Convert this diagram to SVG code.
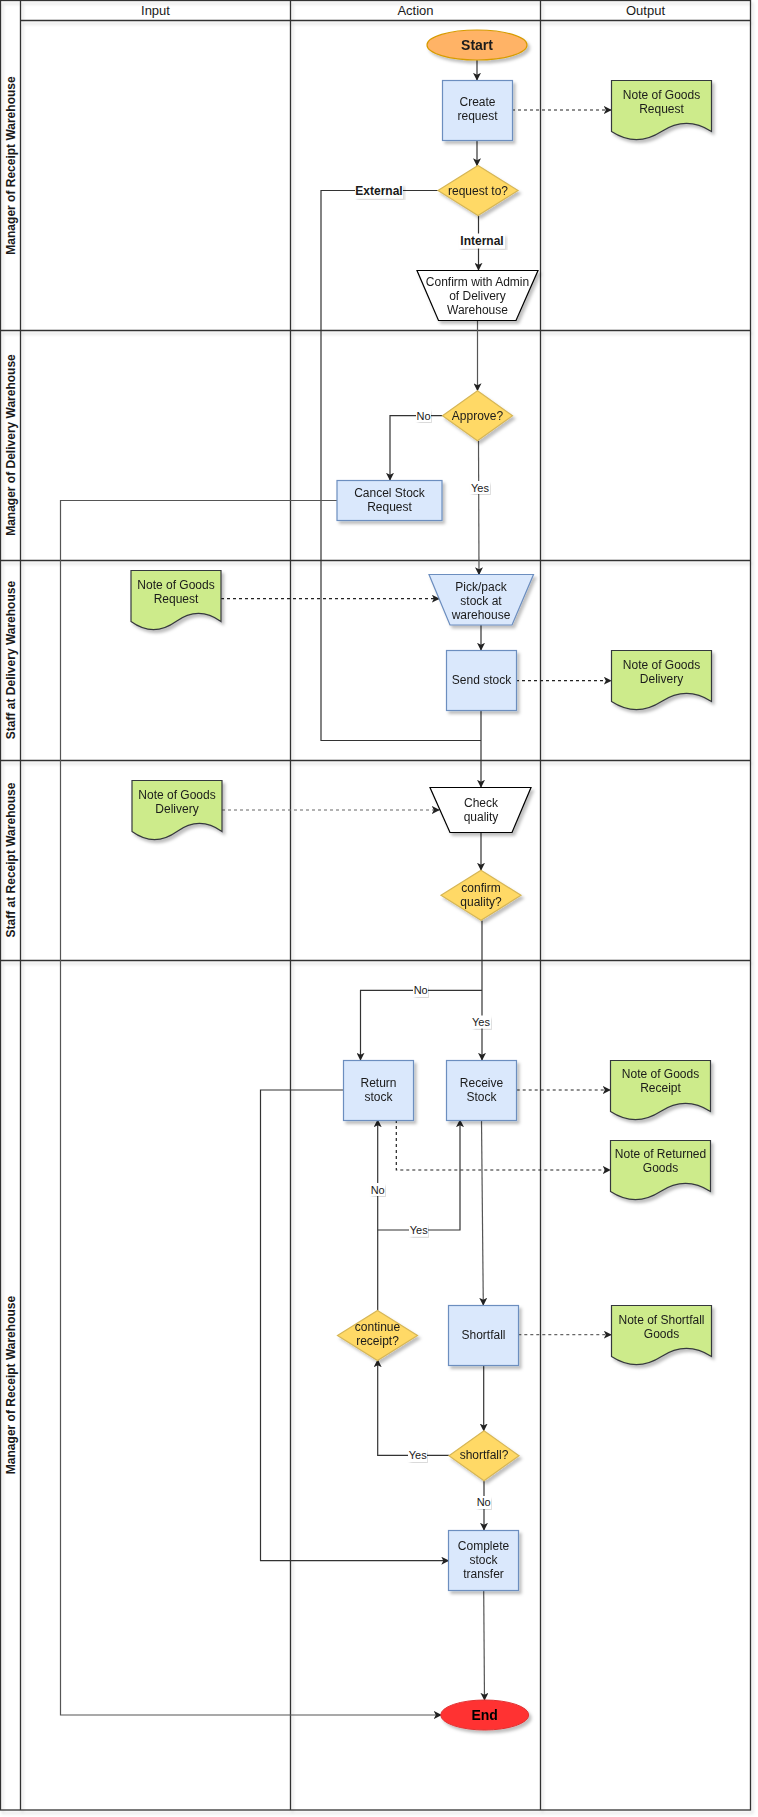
<svg xmlns="http://www.w3.org/2000/svg" width="758" height="1817" viewBox="0 0 758 1817">
<style>
text{font-family:"Liberation Sans",Arial,sans-serif;fill:#1a1a1a}
.t{font-size:12px;text-anchor:middle;dominant-baseline:central}
.lbl{font-size:11px;text-anchor:middle;dominant-baseline:central}
.blbl{font-size:12px;font-weight:bold;text-anchor:middle;dominant-baseline:central}
.hd{font-size:13px;text-anchor:middle;dominant-baseline:central}
.lane{font-size:12px;font-weight:bold;text-anchor:middle;dominant-baseline:central}
.grid{stroke:#333;stroke-width:1.3;fill:none}
.proc{fill:#dae8fc;stroke:#6c8ebf;stroke-width:1.2}
.doc{fill:#cdeb8b;stroke:#36393d;stroke-width:1.2}
.dec{fill:#ffd966;stroke:#d6b656;stroke-width:1.2}
.trap{fill:#fff;stroke:#000;stroke-width:1.2}
.c{fill:none;stroke:#333;stroke-width:1.2}
.cg{fill:none;stroke:#555;stroke-width:1.2}
.d{fill:none;stroke:#222;stroke-width:1.2;stroke-dasharray:3 3}
.dg{fill:none;stroke:#666;stroke-width:1.2;stroke-dasharray:3 3}
.lb{fill:#fff}
</style>
<defs>
<filter id="sh" x="-20%" y="-20%" width="150%" height="150%">
<feDropShadow dx="2.5" dy="3" stdDeviation="1.5" flood-color="#000" flood-opacity="0.25"/>
</filter>
<filter id="shl" x="-5%" y="-5%" width="110%" height="110%">
<feDropShadow dx="2" dy="3" stdDeviation="1.5" flood-color="#000" flood-opacity="0.15"/>
</filter>
<marker id="ar" viewBox="0 0 10 10" refX="9" refY="5" markerWidth="8" markerHeight="8" orient="auto" markerUnits="userSpaceOnUse">
<path d="M0,0 L10,5 L0,10 L2.5,5 z" fill="#222"/>
</marker>
</defs>
<rect width="758" height="1817" fill="#fff"/>
<g id="pool" filter="url(#shl)">
<rect class="grid" x="0.5" y="0.5" width="750" height="1809.5"/>
<line class="grid" x1="20.5" y1="0" x2="20.5" y2="1810"/>
<line class="grid" x1="20.5" y1="20.5" x2="751" y2="20.5"/>
<line class="grid" x1="290.5" y1="0" x2="290.5" y2="1810"/>
<line class="grid" x1="540.5" y1="0" x2="540.5" y2="1810"/>
<line class="grid" x1="0" y1="330.5" x2="751" y2="330.5"/>
<line class="grid" x1="0" y1="560.5" x2="751" y2="560.5"/>
<line class="grid" x1="0" y1="760.5" x2="751" y2="760.5"/>
<line class="grid" x1="0" y1="960.5" x2="751" y2="960.5"/>
</g>
<g id="headers">
<text class="hd" x="155.5" y="10.5">Input</text>
<text class="hd" x="415.5" y="10.5">Action</text>
<text class="hd" x="645.5" y="10.5">Output</text>
<text class="lane" transform="translate(10.5,165.5) rotate(-90)">Manager of Receipt Warehouse</text>
<text class="lane" transform="translate(10.5,445) rotate(-90)">Manager of Delivery Warehouse</text>
<text class="lane" transform="translate(10.5,660) rotate(-90)">Staff at Delivery Warehouse</text>
<text class="lane" transform="translate(10.5,860) rotate(-90)">Staff at Receipt Warehouse</text>
<text class="lane" transform="translate(10.5,1385) rotate(-90)">Manager of Receipt Warehouse</text>
</g>
<g id="connectors">
<path class="c" d="M477,60 V80" marker-end="url(#ar)"/>
<path class="d" d="M512,110 H611" marker-end="url(#ar)"/>
<path class="c" d="M477,140 V165.5" marker-end="url(#ar)"/>
<path class="c" d="M478.5,215.5 V270" marker-end="url(#ar)"/>
<path class="c" d="M438,190.5 H321 V740.5 H481"/>
<path class="cg" d="M477.5,320 V390.5" marker-end="url(#ar)"/>
<path class="c" d="M442.5,415.7 H390 V480" marker-end="url(#ar)"/>
<path class="cg" d="M478.5,440.7 L479,574.5" marker-end="url(#ar)"/>
<path class="cg" d="M337,500.5 H60.5 V1715 H441" marker-end="url(#ar)"/>
<path class="d" d="M221,598.7 H439" marker-end="url(#ar)"/>
<path class="c" d="M481,625 V650" marker-end="url(#ar)"/>
<path class="d" d="M516,680.7 H611" marker-end="url(#ar)"/>
<path class="c" d="M481,710 V787" marker-end="url(#ar)"/>
<path class="dg" d="M222,810 H439" marker-end="url(#ar)"/>
<path class="c" d="M481,832 V870" marker-end="url(#ar)"/>
<path class="c" d="M482,920.5 V1060" marker-end="url(#ar)"/>
<path class="c" d="M482,990.3 H360.5 V1060" marker-end="url(#ar)"/>
<path class="d" d="M516.7,1090 H610" marker-end="url(#ar)"/>
<path class="d" d="M396.3,1120 V1170 H610" marker-end="url(#ar)"/>
<path class="cg" d="M481.5,1120 L483.3,1305" marker-end="url(#ar)"/>
<path class="dg" d="M518.3,1334.7 H611" marker-end="url(#ar)"/>
<path class="c" d="M343,1090 H260.5 V1560.7 H448.5" marker-end="url(#ar)"/>
<path class="c" d="M377.7,1310.7 V1120" marker-end="url(#ar)"/>
<path class="c" d="M377.7,1230 H460 V1120" marker-end="url(#ar)"/>
<path class="c" d="M483.7,1365 V1430.7" marker-end="url(#ar)"/>
<path class="c" d="M449.3,1455.3 H377.7 V1360" marker-end="url(#ar)"/>
<path class="c" d="M484,1480.7 V1530" marker-end="url(#ar)"/>
<path class="cg" d="M483.7,1590 L484.5,1700" marker-end="url(#ar)"/>
<g id="edge-labels">
<rect class="lb" x="355" y="183.5" width="48" height="15" filter="url(#shl)"/>
<text class="blbl" x="379" y="191">External</text>
<rect class="lb" x="459" y="233.5" width="46" height="15" filter="url(#shl)"/>
<text class="blbl" x="482" y="241">Internal</text>
<rect class="lb" x="416" y="409" width="15" height="13" filter="url(#shl)"/>
<text class="lbl" x="423.5" y="415.7">No</text>
<rect class="lb" x="470" y="481" width="20" height="13" filter="url(#shl)"/>
<text class="lbl" x="480" y="487.7">Yes</text>
<rect class="lb" x="472" y="1015.5" width="19" height="13" filter="url(#shl)"/>
<text class="lbl" x="481" y="1022">Yes</text>
<rect class="lb" x="413" y="984" width="15" height="13" filter="url(#shl)"/>
<text class="lbl" x="420.7" y="990.3">No</text>
<rect class="lb" x="370" y="1183" width="15" height="13" filter="url(#shl)"/>
<text class="lbl" x="377.7" y="1189.7">No</text>
<rect class="lb" x="409" y="1223.5" width="19" height="13" filter="url(#shl)"/>
<text class="lbl" x="418.7" y="1230">Yes</text>
<rect class="lb" x="408" y="1449" width="19" height="13" filter="url(#shl)"/>
<text class="lbl" x="417.7" y="1455.3">Yes</text>
<rect class="lb" x="476" y="1496" width="15" height="13" filter="url(#shl)"/>
<text class="lbl" x="483.7" y="1502.3">No</text>
</g>
</g>
<g id="start" filter="url(#sh)">
<ellipse cx="477" cy="45" rx="50" ry="15" fill="#ffb366" stroke="#d79b00" stroke-width="1.2"/>
<text class="t" x="477" y="45" style="font-size:14px;font-weight:bold">Start</text>
</g>
<g id="create-request" filter="url(#sh)">
<rect class="proc" x="442.5" y="80.5" width="70" height="60"/>
<text class="t" x="477.5" y="101.5">Create</text>
<text class="t" x="477.5" y="115.5">request</text>
</g>
<g id="note-goods-request-out" filter="url(#sh)">
<path class="doc" d="M611.5,80.5 H711.5 V131.5 Q686.5,115.3 661.5,131.5 Q636.5,147.7 611.5,131.5 Z"/>
<text class="t" x="661.5" y="94.7">Note of Goods</text>
<text class="t" x="661.5" y="108.7">Request</text>
</g>
<g id="request-to" filter="url(#sh)">
<path class="dec" d="M478,165.5 L518,190.5 L478,215.5 L438,190.5 Z"/>
<text class="t" x="478" y="190.5">request to?</text>
</g>
<g id="confirm-admin" filter="url(#sh)">
<path class="trap" d="M417,270.5 H538 L516,320.5 H438.5 Z"/>
<text class="t" x="477.5" y="282">Confirm with Admin</text>
<text class="t" x="477.5" y="296">of Delivery</text>
<text class="t" x="477.5" y="310">Warehouse</text>
</g>
<g id="approve" filter="url(#sh)">
<path class="dec" d="M477.5,390.7 L512.5,415.7 L477.5,440.7 L442.5,415.7 Z"/>
<text class="t" x="477.5" y="415.7">Approve?</text>
</g>
<g id="cancel-stock-request" filter="url(#sh)">
<rect class="proc" x="337" y="480.5" width="105" height="40"/>
<text class="t" x="389.5" y="493">Cancel Stock</text>
<text class="t" x="389.5" y="507">Request</text>
</g>
<g id="note-goods-request-in" filter="url(#sh)">
<path class="doc" d="M131,570.5 H221 V621.5 Q198.5,605.3 176,621.5 Q153.5,637.7 131,621.5 Z"/>
<text class="t" x="176" y="584.5">Note of Goods</text>
<text class="t" x="176" y="598.7">Request</text>
</g>
<g id="pick-pack" filter="url(#sh)">
<path class="proc" d="M429,574.5 H533.5 L512,625 H450 Z"/>
<text class="t" x="481" y="586.7">Pick/pack</text>
<text class="t" x="481" y="600.7">stock at</text>
<text class="t" x="481" y="614.7">warehouse</text>
</g>
<g id="send-stock" filter="url(#sh)">
<rect class="proc" x="446.5" y="650.5" width="70" height="60"/>
<text class="t" x="481.5" y="679.5">Send stock</text>
</g>
<g id="note-goods-delivery-out" filter="url(#sh)">
<path class="doc" d="M611.5,650.5 H711.5 V701.5 Q686.5,685.3 661.5,701.5 Q636.5,717.7 611.5,701.5 Z"/>
<text class="t" x="661.5" y="664.7">Note of Goods</text>
<text class="t" x="661.5" y="678.7">Delivery</text>
</g>
<g id="note-goods-delivery-in" filter="url(#sh)">
<path class="doc" d="M132,780.5 H222 V831.5 Q199.5,815.3 177,831.5 Q154.5,847.7 132,831.5 Z"/>
<text class="t" x="177" y="794.7">Note of Goods</text>
<text class="t" x="177" y="808.7">Delivery</text>
</g>
<g id="check-quality" filter="url(#sh)">
<path class="trap" d="M430,787.5 H531 L512,832.5 H450 Z"/>
<text class="t" x="481" y="803.3">Check</text>
<text class="t" x="481" y="817.3">quality</text>
</g>
<g id="confirm-quality" filter="url(#sh)">
<path class="dec" d="M481,870.3 L521,895.3 L481,920.3 L441,895.3 Z"/>
<text class="t" x="481" y="887.7">confirm</text>
<text class="t" x="481" y="901.7">quality?</text>
</g>
<g id="return-stock" filter="url(#sh)">
<rect class="proc" x="343.5" y="1060.5" width="70" height="60"/>
<text class="t" x="378.5" y="1082.7">Return</text>
<text class="t" x="378.5" y="1096.7">stock</text>
</g>
<g id="receive-stock" filter="url(#sh)">
<rect class="proc" x="446.5" y="1060.5" width="70" height="60"/>
<text class="t" x="481.5" y="1082.7">Receive</text>
<text class="t" x="481.5" y="1096.7">Stock</text>
</g>
<g id="note-goods-receipt" filter="url(#sh)">
<path class="doc" d="M610.5,1060.5 H710.5 V1111.5 Q685.5,1095.3 660.5,1111.5 Q635.5,1127.7 610.5,1111.5 Z"/>
<text class="t" x="660.5" y="1074.3">Note of Goods</text>
<text class="t" x="660.5" y="1088.3">Receipt</text>
</g>
<g id="note-returned-goods" filter="url(#sh)">
<path class="doc" d="M610.5,1140.5 H710.5 V1191.5 Q685.5,1175.3 660.5,1191.5 Q635.5,1207.7 610.5,1191.5 Z"/>
<text class="t" x="660.5" y="1154.3">Note of Returned</text>
<text class="t" x="660.5" y="1168.3">Goods</text>
</g>
<g id="shortfall" filter="url(#sh)">
<rect class="proc" x="448.5" y="1305.5" width="70" height="60"/>
<text class="t" x="483.5" y="1334.7">Shortfall</text>
</g>
<g id="note-shortfall-goods" filter="url(#sh)">
<path class="doc" d="M611.5,1305.5 H711.5 V1356.5 Q686.5,1340.3 661.5,1356.5 Q636.5,1372.7 611.5,1356.5 Z"/>
<text class="t" x="661.5" y="1319.7">Note of Shortfall</text>
<text class="t" x="661.5" y="1333.7">Goods</text>
</g>
<g id="continue-receipt" filter="url(#sh)">
<path class="dec" d="M377.5,1310.5 L417.5,1335.5 L377.5,1360.5 L337.5,1335.5 Z"/>
<text class="t" x="377.5" y="1327.3">continue</text>
<text class="t" x="377.5" y="1341.3">receipt?</text>
</g>
<g id="shortfall-decision" filter="url(#sh)">
<path class="dec" d="M484,1430.7 L519,1455.7 L484,1480.7 L449,1455.7 Z"/>
<text class="t" x="484" y="1455">shortfall?</text>
</g>
<g id="complete-stock-transfer" filter="url(#sh)">
<rect class="proc" x="448.5" y="1530.5" width="70" height="60"/>
<text class="t" x="483.5" y="1545.7">Complete</text>
<text class="t" x="483.5" y="1559.7">stock</text>
<text class="t" x="483.5" y="1573.7">transfer</text>
</g>
<g id="end" filter="url(#sh)">
<ellipse cx="484.7" cy="1715" rx="44" ry="15" fill="#ff3333" stroke="#e03030" stroke-width="1"/>
<text class="t" x="484.7" y="1715" style="font-size:14px;font-weight:bold;fill:#000">End</text>
</g>
</svg>
